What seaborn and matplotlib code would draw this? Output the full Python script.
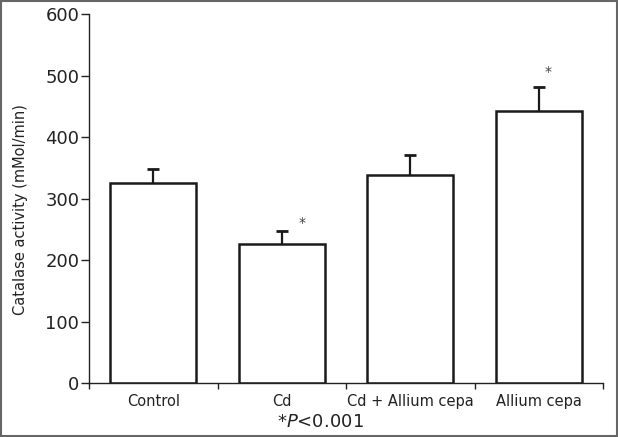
import matplotlib
matplotlib.use("Agg")
import matplotlib.pyplot as plt
import seaborn as sns
import pandas as pd
from matplotlib.patches import Rectangle

categories = ["Control", "Cd", "Cd + Allium cepa", "Allium cepa"]
means = [326, 226, 338, 443]
sds = [22, 21, 33, 39]
significant = [False, True, False, True]
y_ticks = [0, 100, 200, 300, 400, 500, 600]

sns.set_theme(style="white")
plt.rcParams["font.family"] = ["DejaVu Sans"]
plt.rcParams["mathtext.fontset"] = "dejavusans"

df = pd.DataFrame({"group": categories, "activity": means})

fig = plt.figure(figsize=(6.18, 4.37), dpi=100)
ax = fig.add_axes([89 / 618, 1 - 383.3 / 437, 514 / 618, 369.3 / 437])

sns.barplot(data=df, x="group", y="activity", order=categories, color="white",
            edgecolor="#1a1a1a", linewidth=1.8, width=0.67, saturation=1, ax=ax)
for p in ax.patches:
    p.set_facecolor("white")
    p.set_zorder(2)

xs = list(range(len(categories)))
tops = [m + s for m, s in zip(means, sds)]
ax.vlines(xs, means, tops, colors="#1a1a1a", linewidth=1.6, zorder=1)
ax.plot(xs, tops, linestyle="none", marker="_", markersize=9, markeredgewidth=2.0,
        color="#1a1a1a", zorder=3)

star_dx = [0.0, 0.16, 0.0, 0.07]
star_dy = [0, 13, 0, 24]
for x, t, sig, dx, dy in zip(xs, tops, significant, star_dx, star_dy):
    if sig:
        ax.text(x + dx, t + dy, "*", ha="center", va="center",
                fontsize=10, color="#444444")

ax.set_xlim(-0.5, 3.5)
ax.set_ylim(0, 600)
ax.set_yticks(y_ticks)
ax.set_yticklabels([str(t) for t in y_ticks], fontsize=13, color="#222222")
ax.set_xticks(xs)
ax.set_xticklabels(categories, fontsize=10.5, color="#222222")
ax.set_xticks([-0.5, 0.5, 1.5, 2.5, 3.5], minor=True)
ax.tick_params(axis="x", which="major", length=0, pad=7.5)
ax.tick_params(axis="x", which="minor", length=4.5, width=1, color="#222222",
               direction="out", bottom=True)
ax.tick_params(axis="y", which="major", length=5.5, width=1, color="#222222",
               direction="out", left=True, pad=1.5)
ax.set_xlabel("")
ax.set_ylabel("")
for side in ["top", "right"]:
    ax.spines[side].set_visible(False)
for side in ["left", "bottom"]:
    ax.spines[side].set_color("#222222")
    ax.spines[side].set_linewidth(1.0)
    ax.spines[side].set_zorder(4)
ax.set_facecolor("white")

fig.text(21 / 618, 1 - 210 / 437, "Catalase activity (mMol/min)", rotation=90,
         ha="center", va="center", fontsize=10.5, color="#222222")
fig.text(320 / 618, 1 - 422 / 437, r"*$\it{P}$<0.001", ha="center", va="center",
         fontsize=13, color="#222222")

fig.patches.append(Rectangle((0.002, 0.003), 0.996, 0.994, transform=fig.transFigure,
                             fill=False, edgecolor="#666666", linewidth=1.5))

fig.savefig("out.png", dpi=100)
